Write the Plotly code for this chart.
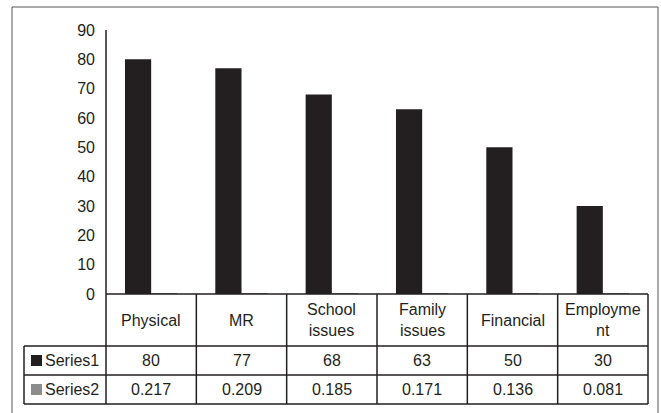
import plotly.graph_objects as go

categories = ["Physical", "MR", "School<br>issues", "Family<br>issues", "Financial", "Employme<br>nt"]
series_names = ["Series1", "Series2"]
series1 = [80, 77, 68, 63, 50, 30]
series2 = [0.217, 0.209, 0.185, 0.171, 0.136, 0.081]
series_colors = ["#231f20", "#8c8c8c"]
y_ticks = [0, 10, 20, 30, 40, 50, 60, 70, 80, 90]

W, H = 661, 413
L, R, T, B = 106, 13, 30, 119
PW, PH = W - L - R, H - T - B

def px(x):
    return (x - L) / PW

def py(y):
    return (H - B - y) / PH

FONT = "Liberation Sans, Arial, sans-serif"
FS = 16
LINE = dict(color="#231f20", width=1.5)

fig = go.Figure()
for name, vals, col in zip(series_names, [series1, series2], series_colors):
    fig.add_trace(go.Bar(x=list(range(len(categories))), y=vals, name=name,
                         marker=dict(color=col, line=dict(width=0)), showlegend=False))

n = len(categories)
shapes = []
annotations = []

# outer border
shapes.append(dict(type="rect", xref="paper", yref="paper", x0=px(12), x1=px(658),
                   y0=py(416), y1=py(7), line=dict(color="#555555", width=1)))

row_y = [294, 346, 375, 404]
left_x = 24
# horizontal table lines
shapes.append(dict(type="line", xref="paper", yref="paper", x0=0, x1=1, y0=py(row_y[0]), y1=py(row_y[0]), line=LINE))
for yy in row_y[1:]:
    shapes.append(dict(type="line", xref="paper", yref="paper", x0=px(left_x), x1=1, y0=py(yy), y1=py(yy), line=LINE))
# vertical lines
shapes.append(dict(type="line", xref="paper", yref="paper", x0=0, x1=0, y0=1, y1=py(row_y[-1]), line=LINE))
shapes.append(dict(type="line", xref="paper", yref="paper", x0=px(left_x), x1=px(left_x), y0=py(row_y[1]), y1=py(row_y[-1]), line=LINE))
for k in range(1, n + 1):
    shapes.append(dict(type="line", xref="paper", yref="paper", x0=k / n, x1=k / n,
                       y0=py(row_y[0]), y1=py(row_y[-1]), line=LINE))

# header labels
for i, c in enumerate(categories):
    annotations.append(dict(xref="paper", yref="paper", x=(i + 0.5) / n, y=py((row_y[0] + row_y[1]) / 2),
                            text=c, showarrow=False, xanchor="center", yanchor="middle",
                            font=dict(family=FONT, size=FS, color="#231f20")))

# value rows
rows = [(series_names[0], [str(v) for v in series1], series_colors[0]),
        (series_names[1], [f"{v:.3f}" for v in series2], series_colors[1])]
for r, (name, texts, col) in enumerate(rows):
    yc = (row_y[r + 1] + row_y[r + 2]) / 2
    for i, t in enumerate(texts):
        annotations.append(dict(xref="paper", yref="paper", x=(i + 0.5) / n, y=py(yc),
                                text=t, showarrow=False, xanchor="center", yanchor="middle",
                                font=dict(family=FONT, size=FS, color="#231f20")))
    shapes.append(dict(type="rect", xref="paper", yref="paper", x0=px(31), x1=px(42),
                       y0=py(yc + 5.5), y1=py(yc - 5.5), fillcolor=col, line=dict(width=0)))
    annotations.append(dict(xref="paper", yref="paper", x=px(43), y=py(yc),
                            text=name, showarrow=False, xanchor="left", yanchor="middle",
                            font=dict(family=FONT, size=FS, color="#231f20")))

fig.update_layout(
    width=W, height=H,
    margin=dict(l=L, r=R, t=T, b=B),
    paper_bgcolor="white", plot_bgcolor="white",
    barmode="group", bargap=0.42, bargroupgap=0,
    xaxis=dict(range=[-0.5, n - 0.5], showticklabels=False, showgrid=False, zeroline=False,
               showline=False, ticks=""),
    yaxis=dict(range=[0, 90], tickvals=y_ticks, showgrid=False, zeroline=False, showline=False,
               ticks="", ticklabelstandoff=10,
               tickfont=dict(family=FONT, size=FS, color="#231f20")),
    shapes=shapes, annotations=annotations,
    font=dict(family=FONT, size=FS, color="#231f20"),
)

fig.write_html("out.html", config={"displayModeBar": False},
               post_script="document.body.style.margin='0';document.body.style.overflow='hidden';")
